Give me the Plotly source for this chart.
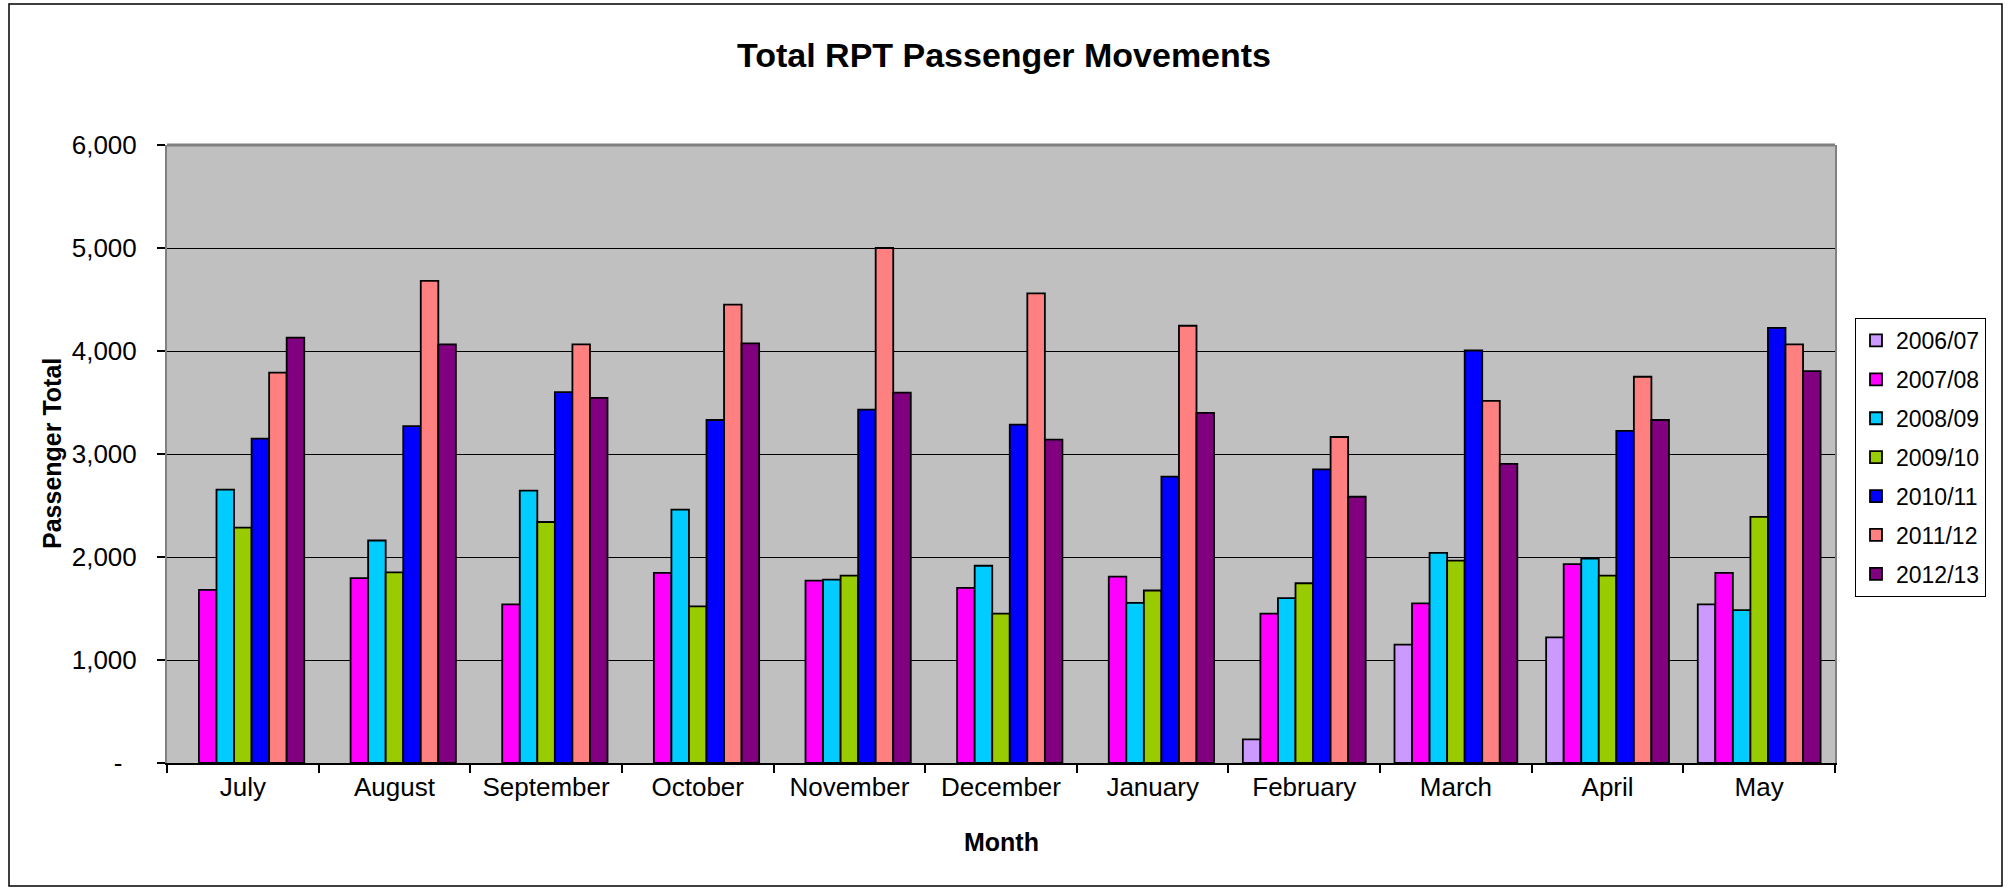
import plotly.graph_objects as go

months = ["July", "August", "September", "October", "November", "December",
          "January", "February", "March", "April", "May"]

s2006_07 = [None, None, None, None, None, None, None, 230, 1150, 1220, 1540]
s2007_08 = [1680, 1795, 1540, 1845, 1770, 1700, 1810, 1450, 1550, 1930, 1845]
s2008_09 = [2655, 2160, 2645, 2460, 1780, 1915, 1555, 1600, 2040, 1985, 1485]
s2009_10 = [2285, 1850, 2340, 1520, 1820, 1450, 1675, 1745, 1965, 1820, 2390]
s2010_11 = [3150, 3270, 3600, 3330, 3430, 3285, 2780, 2850, 4005, 3225, 4225]
s2011_12 = [3790, 4680, 4065, 4450, 5000, 4560, 4245, 3165, 3515, 3750, 4065]
s2012_13 = [4130, 4065, 3545, 4075, 3595, 3140, 3400, 2585, 2905, 3330, 3805]

series_names = ["2006/07", "2007/08", "2008/09", "2009/10", "2010/11", "2011/12", "2012/13"]
series_values = [s2006_07, s2007_08, s2008_09, s2009_10, s2010_11, s2011_12, s2012_13]
series_colors = ["#CC99FF", "#FF00FF", "#00CCFF", "#99CC00", "#0000FF", "#FF8080", "#800080"]

y_tickvals = [0, 1000, 2000, 3000, 4000, 5000, 6000]
y_ticktext = ["-\u00a0\u00a0", "1,000", "2,000", "3,000", "4,000", "5,000", "6,000"]

FONT = "Arial, 'Liberation Sans', sans-serif"

fig = go.Figure()
for name, vals, col in zip(series_names, series_values, series_colors):
    fig.add_trace(go.Bar(
        x=months, y=vals, name=name, legendgroup=name,
        marker=dict(color=col, line=dict(color="black", width=1.8)),
    ))

W, H = 2013, 891
L, R, T, B = 167, 1835, 145, 763
pw, ph = R - L, B - T

def px(x):
    return (x - L) / pw

def py(y):
    return (B - y) / ph

fig.update_layout(
    width=W, height=H,
    margin=dict(l=L, r=W - R, t=T, b=H - B, autoexpand=False),
    paper_bgcolor="white",
    plot_bgcolor="#C0C0C0",
    barmode="group",
    bargap=0.19,
    bargroupgap=0,
    font=dict(family=FONT, color="black"),
    title=dict(text="Total RPT Passenger Movements", x=1004 / W, xanchor="center",
               xref="container", yref="container", y=1 - 55 / H, yanchor="middle",
               font=dict(size=34, family=FONT, color="black", weight="bold")),
    showlegend=True,
    legend=dict(x=px(1855), y=py(318), xanchor="left", yanchor="top",
                bgcolor="white", bordercolor="black", borderwidth=1,
                font=dict(size=23, family=FONT, color="black"),
                tracegroupgap=6, itemclick=False, itemdoubleclick=False),
    xaxis=dict(
        showgrid=False, showline=True, linecolor="black", linewidth=2,
        ticks="outside", ticklen=8, tickcolor="black", tickwidth=1.5,
        tickson="boundaries",
        tickfont=dict(size=26, family=FONT, color="black"),
        fixedrange=True,
    ),
    yaxis=dict(
        range=[0, 6000], tickvals=y_tickvals, ticktext=y_ticktext,
        showgrid=True, gridcolor="black", gridwidth=1,
        showline=True, linecolor="#808080", linewidth=2, mirror=True,
        ticks="outside", ticklen=8, tickcolor="black", tickwidth=1.5,
        ticklabelstandoff=15,
        tickfont=dict(size=26, family=FONT, color="black"),
        zeroline=False, fixedrange=True,
    ),
    annotations=[
        dict(text="<b>Passenger Total</b>", textangle=-90, x=px(52), y=0.5,
             xref="paper", yref="paper", xanchor="center", yanchor="middle",
             showarrow=False, font=dict(size=25, family=FONT, color="black")),
        dict(text="<b>Month</b>", x=0.5, y=py(842), xref="paper", yref="paper",
             xanchor="center", yanchor="middle", showarrow=False,
             font=dict(size=25, family=FONT, color="black")),
    ],
    shapes=[
        dict(type="line", xref="paper", yref="paper", x0=0, x1=1, y0=1, y1=1,
             line=dict(color="#808080", width=3)),
        dict(type="rect", xref="paper", yref="paper",
             x0=px(9), x1=px(2002), y0=py(886), y1=py(4),
             line=dict(color="black", width=1.5), fillcolor="rgba(0,0,0,0)"),
    ],
)

fig.write_html("out.html", config={"displayModeBar": False},
               post_script="document.body.style.margin='0';")
